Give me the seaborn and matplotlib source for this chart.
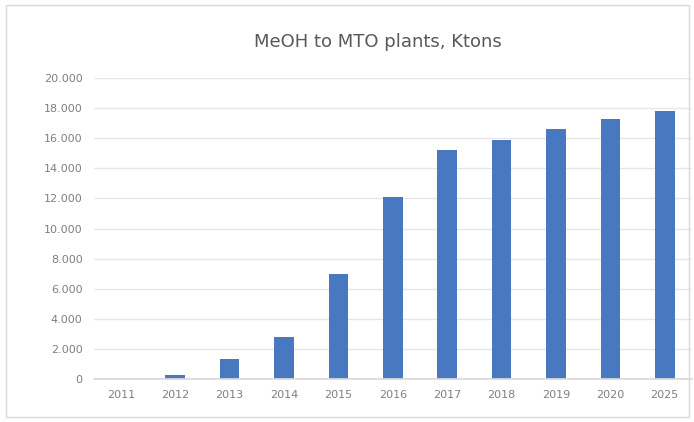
import matplotlib
matplotlib.use("Agg")
import matplotlib.pyplot as plt
import matplotlib.ticker as mticker
import seaborn as sns
import pandas as pd

# data
years = ["2011", "2012", "2013", "2014", "2015", "2016", "2017", "2018", "2019", "2020", "2025"]
ktons = [0, 250, 1300, 2800, 7000, 12100, 15200, 15900, 16600, 17300, 17800]

df = pd.DataFrame({"year": years, "ktons": ktons})

sns.set_theme(style="white")
plt.rcParams['font.family'] = ['DejaVu Sans']

fig = plt.figure(figsize=(6.94, 4.22), dpi=100)
ax = fig.add_axes([0.135, 0.102, 0.862, 0.713])

sns.barplot(data=df, x="year", y="ktons", color="#4878bf", width=0.36,
            saturation=1, linewidth=0, ax=ax)

ax.set_ylim(0, 20000)
ax.set_yticks(range(0, 20001, 2000))
ax.yaxis.set_major_formatter(mticker.FuncFormatter(
    lambda v, p: f"{int(v):,}".replace(",", ".")))
ax.grid(axis="y", color="#e6e6e6", linewidth=1)
ax.set_axisbelow(True)
for s in ["top", "right", "left"]:
    ax.spines[s].set_visible(False)
ax.spines["bottom"].set_color("#d9d9d9")
ax.tick_params(axis="both", length=0, labelsize=8, colors="#7f7f7f", pad=8)
ax.set_xlabel("")
ax.set_ylabel("")

fig.text(0.545, 0.9, "MeOH to MTO plants, Ktons", ha="center", va="center",
         fontsize=13, color="#595959")

# light frame around the chart area
fig.patches.append(plt.Rectangle((0.008, 0.012), 0.985, 0.975, transform=fig.transFigure,
                                 fill=False, edgecolor="#d9d9d9", linewidth=1))

fig.savefig("out.png", dpi=100)
